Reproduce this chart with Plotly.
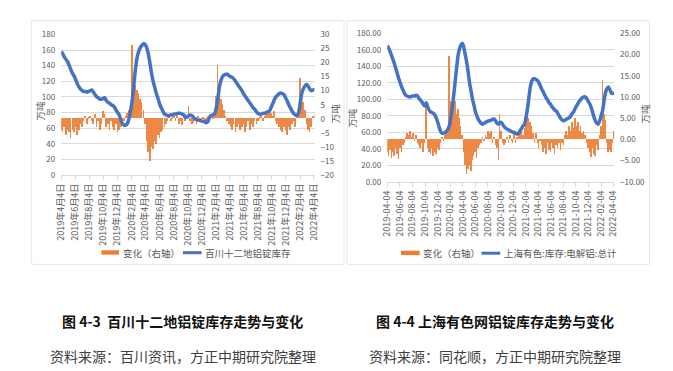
import pandas as pd
import plotly.graph_objects as go

W, H = 673, 371

# ---------------- data ----------------
week_dates = pd.date_range("2019-04-04", periods=158, freq="7D")

# 百川十二地铝锭库存 (万吨, left axis) and weekly change (万吨, right axis)
baichuan_stock = [
    158, 155, 151, 148, 145, 140, 135, 130, 127, 122,
    117, 113, 110, 108, 107, 107, 106, 107, 108, 109,
    106, 103, 100, 99, 97, 97, 98, 99, 95, 93,
    92, 90, 89, 87, 83, 80, 77, 70, 66, 64,
    64, 66, 72, 82, 95, 115, 135, 150, 158, 163,
    166, 168, 167, 163, 155, 143, 130, 120, 112, 104,
    98, 91, 86, 82, 78, 77, 76, 76, 77, 77,
    78, 78, 79, 79, 79, 78, 77, 74, 74, 76,
    77, 76, 74, 72, 71, 70, 70, 69, 69, 68,
    67, 69, 74, 76, 77, 78, 85, 97, 112, 121,
    126, 128, 129, 129, 127, 126, 125, 123, 120, 117,
    114, 111, 108, 104, 101, 98, 95, 92, 89, 86,
    84, 81, 79, 78, 78, 79, 79, 80, 81, 82,
    86, 91, 96, 100, 102, 104, 105, 104, 103, 99,
    95, 90, 86, 82, 79, 77, 76, 79, 90, 104,
    110, 114, 116, 114, 110, 108, 109, 109,
]
baichuan_change = [
    -4, -5, -3, -6, -4, -5, -7, -4, -5, -3,
    -6, -4, -2, -3, -1, 1, -2, 0.5, 1, -1,
    -2, 1.5, -3, -1, -4, -2, 2.5, 1.5, -3, -2,
    -4, -1, -3, -4, -2, -5, -4, -3, -2, -1,
    1, 2, 3, 5, 26, 14, 12, 10, 9, 7,
    6, 3, -2, -8, -12, -15, -10, -11, -8, -9,
    -6, -7, -5, -4, -3, -2, -1, 1, -1, 0.5,
    1, -1, 1.5, -2, -1, -2.5, 1, -1, 1, 4.5,
    -1, -2, -1.5, -1, -2, 1, -1, -1, 0.5, -1,
    -2, 1, 1.5, 1, 0.5, 2, 8, 19, 10, 7,
    5, 3, 1, -1, -2, -3, -4, -2, -5, -3,
    -2, -4, -3, -2, -5, -3, -1, -4, -2, -3,
    -1, -2, -1, 0.5, 1, -1, 1, 2, 1.5, 3,
    2, 1, 2.5, -1, -2, -3, -4, -5, -3, -4,
    -6, -3, -4, -2, -1, -3, 1, 3, 14.5, 8,
    6, 3, -2, -4, -5, -3, 1, 1.5,
]

# 上海有色:库存:电解铝:总计 (万吨, left axis) and change (万吨, right axis)
smm_stock = [
    165, 162, 158, 153, 148, 143, 137, 131, 125, 120,
    115, 111, 107, 105, 104, 103, 103, 104, 104, 104,
    105, 104, 101, 99, 97, 94, 92, 96, 91, 87,
    85, 84, 83, 81, 77, 72, 66, 61, 59, 59,
    60, 61, 64, 68, 78, 90, 105, 122, 138, 153,
    161, 166, 168, 163, 154, 145, 133, 120, 110, 100,
    93, 85, 80, 76, 73, 71, 70, 71, 72, 73,
    74, 74, 75, 76, 76, 74, 71, 70, 72, 72,
    69, 67, 65, 64, 63, 62, 61, 60, 60, 59,
    58, 59, 62, 65, 68, 70, 78, 88, 102, 115,
    122, 125, 125, 124, 123, 120, 116, 112, 109, 105,
    102, 99, 96, 94, 91, 89, 87, 86, 83, 80,
    77, 75, 74, 75, 76, 77, 78, 80, 83, 85,
    89, 92, 95, 98, 100, 102, 103, 103, 101, 98,
    95, 91, 85, 79, 74, 71, 70, 74, 80, 86,
    98, 108, 113, 115, 112, 108, 107, 108,
]
smm_change = [
    -3, -4, -2.5, -4.5, -3, -4, -2, -3.5, -4.7, -2,
    -3, -1.5, -1, 0.5, 1.5, 1, 2, 0.5, 1.5, -0.5,
    1, -1, -1.5, -2, -1, -3, -1, 8, -2, -3,
    -3.5, -2, -4, -3, -3.6, -2, -2.5, -1, 0.5, -0.5,
    1, 1.5, 2, 19.5, 9, 8, 7.5, 9, 6, 7,
    5, 3, 1, -3, -6, -8.2, -7, -6, -7.5, -5,
    -4, -3, -4.5, -2, -1.5, -1, 0.5, -0.5, 1, 0.5,
    2, 1.5, 2, -1, 0.5, -1.5, -2, -5, 6, 2,
    -1, -1.5, -1, 0.5, -1, 1, -0.5, -1, 1.5, -1,
    0.5, 1, 1.5, 2, 1, 2.5, 4, 6.7, 5, 4,
    3, 1.5, -1, 1.5, -1, -2, -0.5, -1.5, -3, -2,
    -3.6, -1, -2.5, -3, -1, -2, -3.5, -1.5, -2, -1,
    -2.5, -1, -1.5, 1, 2, 1, 3, 2, 4, 2.5,
    5, 3, 4, 2, 3, 1.5, 2, 1, -1, -2,
    -3, -4.3, -2, -3.5, -4, -1.5, -2.5, 1, 3, 14,
    6, 4.4, -1, -3, -2.5, -3, -1, 2,
]

tick_dates = pd.date_range("2019-04-01", "2022-04-01", freq="2MS") + pd.Timedelta(days=3)
tick_text_cn = [f"{d.year}年{d.month}月{d.day}日" for d in tick_dates]
tick_text_iso = [d.strftime("%Y-%m-%d") for d in tick_dates]

left_legend = ["变化（右轴）", "百川十二地铝锭库存"]
right_legend = ["变化（右轴）", "上海有色:库存:电解铝:总计"]
captions = ["<b>图 4-3  百川十二地铝锭库存走势与变化</b>", "<b>图 4-4 上海有色网铝锭库存走势与变化</b>"]
sources = ["资料来源：百川资讯，方正中期研究院整理", "资料来源：同花顺，方正中期研究院整理"]

# ---------------- styling ----------------
ORANGE = "#ED7D31"
BLUE = "#4472C4"
GRID = "#D9D9D9"
TXT = "#595959"
FONT = "Noto Sans CJK SC"


def fx(p):
    return p / W


def fy(p):
    return 1 - p / H


bar_w = 2.6 * 24 * 3600 * 1000

fig = go.Figure()
fig.add_trace(go.Bar(x=week_dates, y=baichuan_change, xaxis="x", yaxis="y",
                     marker=dict(color=ORANGE, line=dict(width=0)), width=bar_w,
                     opacity=0.9, showlegend=False))
fig.add_trace(go.Scatter(x=week_dates, y=baichuan_stock, xaxis="x", yaxis="y2",
                         mode="lines", line=dict(color=BLUE, width=3.5, shape="spline",
                                                 smoothing=0.6),
                         showlegend=False))
fig.add_trace(go.Bar(x=week_dates, y=smm_change, xaxis="x2", yaxis="y3",
                     marker=dict(color=ORANGE, line=dict(width=0)), width=bar_w,
                     opacity=0.9, showlegend=False))
fig.add_trace(go.Scatter(x=week_dates, y=smm_stock, xaxis="x2", yaxis="y4",
                         mode="lines", line=dict(color=BLUE, width=3.5, shape="spline",
                                                 smoothing=0.6),
                         showlegend=False))

xr = ["2019-04-04", "2022-04-07"]
common_x = dict(type="date", range=xr, tickangle=-90, ticks="outside", ticklen=4,
                tickcolor=GRID, showline=True, linecolor=GRID, showgrid=False,
                zeroline=False, tickfont=dict(family=FONT, size=9, color=TXT))
common_y = dict(tickfont=dict(family=FONT, size=8, color=TXT), zeroline=False,
                showline=False, ticks="", ticklabelstandoff=5)

fig.update_layout(
    width=W, height=H,
    margin=dict(l=0, r=0, t=0, b=0),
    paper_bgcolor="white", plot_bgcolor="white",
    showlegend=False,
    bargap=0,
    font=dict(family=FONT, color=TXT),
    xaxis=dict(domain=[fx(47), fx(305)], anchor="y", tickvals=tick_dates,
               ticktext=tick_text_cn, **common_x),
    yaxis=dict(domain=[fy(166), fy(21)], anchor="x", side="right", range=[-20, 30],
               dtick=5, showgrid=False, **common_y),
    yaxis2=dict(overlaying="y", anchor="x", side="left", range=[0, 180], dtick=20,
                showgrid=True, gridcolor=GRID, gridwidth=1, **common_y),
    xaxis2=dict(domain=[fx(379), fx(610)], anchor="y3", tickvals=tick_dates,
                ticktext=tick_text_iso, **common_x),
    yaxis3=dict(domain=[fy(173), fy(20)], anchor="x2", side="right", range=[-10, 25],
                dtick=5, tickformat=".2f", showgrid=False, **common_y),
    yaxis4=dict(overlaying="y3", anchor="x2", side="left", range=[0, 180], dtick=20,
                tickformat=".2f", showgrid=True, gridcolor=GRID, gridwidth=1, **common_y),
)

shapes = [
    dict(type="rect", xref="paper", yref="paper", x0=fx(17), x1=fx(335), y0=fy(258), y1=fy(7),
         line=dict(color="#E6E6E6", width=1), layer="below"),
    dict(type="rect", xref="paper", yref="paper", x0=fx(338), x1=fx(646), y0=fy(258), y1=fy(7),
         line=dict(color="#E6E6E6", width=1), layer="below"),
    # legend swatches
    dict(type="rect", xref="paper", yref="paper", x0=fx(88), x1=fx(106), y0=fy(248), y1=fy(243.5),
         fillcolor=ORANGE, line=dict(width=0)),
    dict(type="line", xref="paper", yref="paper", x0=fx(171), x1=fx(190), y0=fy(246), y1=fy(246),
         line=dict(color=BLUE, width=3)),
    dict(type="rect", xref="paper", yref="paper", x0=fx(393), x1=fx(412), y0=fy(248.5), y1=fy(244),
         fillcolor=ORANGE, line=dict(width=0)),
    dict(type="line", xref="paper", yref="paper", x0=fx(475), x1=fx(494), y0=fy(246.5), y1=fy(246.5),
         line=dict(color=BLUE, width=3)),
]
fig.update_layout(shapes=shapes)

ann = []


def add_text(text, x, y, size, color=TXT, xanchor="left", angle=0):
    ann.append(dict(text=text, x=fx(x), y=fy(y), xref="paper", yref="paper",
                    showarrow=False, xanchor=xanchor, yanchor="middle", textangle=angle,
                    font=dict(family=FONT, size=size, color=color)))


add_text(left_legend[0], 108, 246, 9.5)
add_text(left_legend[1], 191, 246, 9.5)
add_text(right_legend[0], 413, 246.5, 9.5)
add_text(right_legend[1], 496, 246.5, 9.5)

add_text("万吨", 25, 100, 9.5, xanchor="center", angle=-90)
add_text("万吨", 326, 102, 9.5, xanchor="center", angle=-90)
add_text("万吨", 343, 107, 9.5, xanchor="center", angle=-90)
add_text("万吨", 641, 103, 9.5, xanchor="center", angle=-90)

add_text(captions[0], 171, 316, 14, color="#111111", xanchor="center")
add_text(captions[1], 489, 316, 14, color="#111111", xanchor="center")
add_text(sources[0], 171, 352, 14, color="#404040", xanchor="center")
add_text(sources[1], 489, 352, 14, color="#404040", xanchor="center")

fig.update_layout(annotations=ann)

fig.write_html("out.html")
